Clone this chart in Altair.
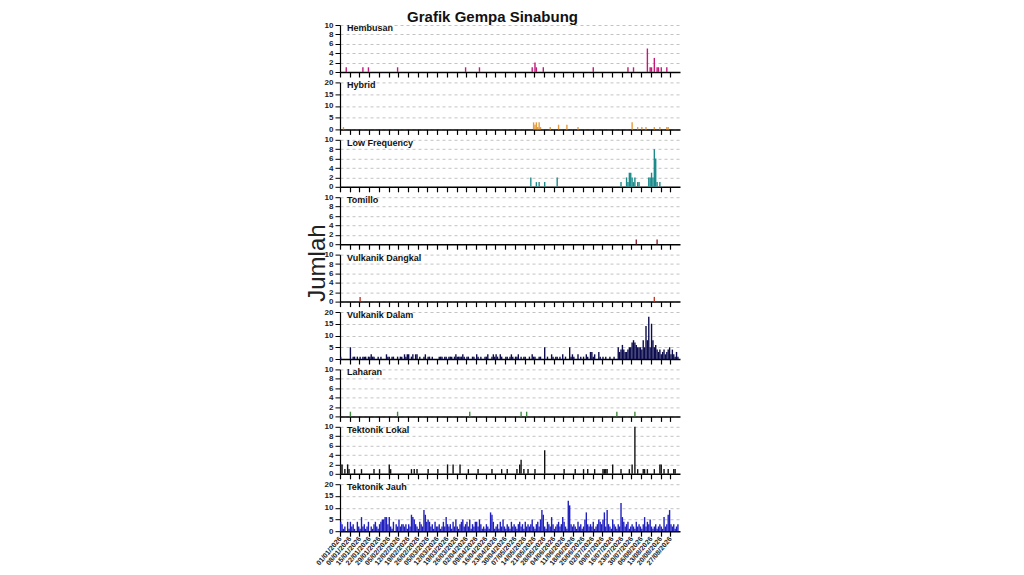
import altair as alt
import pandas as pd

N_DAYS = 245

tick_labels = ["01/01/2026", "08/01/2026", "15/01/2026", "22/01/2026", "29/01/2026",
               "05/02/2026", "12/02/2026", "19/02/2026", "26/02/2026", "05/03/2026",
               "12/03/2026", "19/03/2026", "26/03/2026", "02/04/2026", "09/04/2026",
               "16/04/2026", "23/04/2026", "30/04/2026", "07/05/2026", "14/05/2026",
               "21/05/2026", "28/05/2026", "04/06/2026", "11/06/2026", "18/06/2026",
               "25/06/2026", "02/07/2026", "09/07/2026", "16/07/2026", "23/07/2026",
               "30/07/2026", "06/08/2026", "13/08/2026", "20/08/2026", "27/08/2026"]
tick_days = [7 * i for i in range(len(tick_labels))]

# sparse series: day index (0 = 01/01) and count
hembusan_days = [4, 16, 20, 41, 90, 100, 138, 140, 141, 146, 182, 207, 211, 221, 223, 224, 226, 228, 229, 231, 235]
hembusan_vals = [1, 1, 1, 1, 1, 1, 1, 2, 1, 1, 1, 1, 1, 5, 1, 1, 3, 1, 1, 1, 1]

hybrid_days = [2, 139, 140, 141, 142, 143, 144, 151, 157, 163, 171, 210, 214, 217, 220, 226, 230, 235, 236]
hybrid_vals = [1, 3, 2, 3, 1, 3, 1, 1, 2, 2, 1, 3, 1, 1, 1, 1, 1, 1, 1]

lowfreq_days = [137, 141, 143, 147, 156, 202, 206, 207, 208, 209, 210, 211, 212, 214, 215, 222, 223, 224, 225, 226, 227, 228, 230]
lowfreq_vals = [2, 1, 1, 1, 2, 1, 2, 1, 3, 3, 2, 1, 2, 1, 1, 2, 2, 3, 2, 8, 6, 1, 1]

tomillo_days = [213, 228]
tomillo_vals = [1, 1]

vdangkal_days = [14, 226]
vdangkal_vals = [1, 1]

laharan_days = [7, 41, 93, 130, 134, 199, 212]
laharan_vals = [1, 1, 1, 1, 1, 1, 1]

tlokal_days = [0, 1, 3, 5, 6, 10, 15, 24, 28, 35, 36, 51, 53, 55, 63, 70, 77, 81, 86, 92, 99, 109, 116, 120,
               127, 129, 130, 132, 135, 140, 147, 161, 169, 175, 178, 183, 189, 190, 191, 192, 196, 202,
               208, 210, 212, 214, 218, 219, 221, 226, 230, 231, 233, 236, 240, 241]
tlokal_vals = [2, 2, 1, 2, 1, 1, 1, 1, 1, 2, 1, 1, 1, 1, 1, 1, 2, 2, 2, 1, 1, 1, 1, 1,
               1, 2, 3, 1, 1, 1, 5, 1, 1, 1, 1, 1, 1, 1, 1, 1, 2, 1,
               1, 2, 10, 1, 1, 1, 1, 1, 2, 2, 1, 1, 1, 1]

# dense series: one value per day from 01/01
vdalam_vals = [1, 0, 0, 0, 0, 0, 0,
               5, 0, 1, 1, 0, 1, 0,
               1, 0, 1, 1, 1, 0, 1,
               1, 2, 1, 1, 0, 0, 1,
               0, 1, 0, 0, 0, 2, 1,
               1, 0, 1, 1, 0, 0, 1,
               0, 1, 1, 0, 2, 1, 2,
               2, 0, 1, 2, 0, 2, 2,
               0, 1, 0, 0, 1, 2, 0,
               1, 1, 0, 1, 0, 0, 0,
               0, 1, 1, 1, 0, 1, 1,
               0, 1, 1, 1, 0, 1, 2,
               1, 1, 1, 1, 2, 1, 0,
               1, 1, 0, 0, 1, 1, 0,
               2, 1, 0, 1, 0, 0, 1,
               1, 2, 0, 0, 1, 2, 1,
               2, 1, 0, 2, 1, 0, 0,
               1, 1, 0, 1, 2, 1, 0,
               1, 1, 2, 0, 1, 0, 1,
               1, 0, 0, 1, 0, 2, 1,
               1, 0, 0, 1, 1, 0, 0,
               5, 0, 1, 0, 0, 2, 1,
               0, 1, 1, 0, 1, 0, 2,
               0, 1, 0, 0, 5, 1, 2,
               1, 0, 0, 2, 0, 1, 0,
               1, 0, 2, 1, 0, 3, 3,
               1, 2, 0, 0, 3, 1, 0,
               1, 0, 1, 0, 0, 1, 0,
               0, 1, 0, 0, 5, 3, 4,
               6, 4, 3, 3, 4, 5, 5,
               7, 8, 7, 6, 5, 5, 5,
               4, 8, 5, 14, 8, 18, 5,
               15, 8, 5, 6, 4, 3, 4,
               2, 3, 4, 2, 3, 4, 5,
               2, 4, 2, 1, 3, 1]

tjauh_vals = [4, 3, 1, 2, 0, 4, 1,
              4, 2, 3, 1, 0, 4, 2,
              1, 6, 2, 3, 1, 2, 4,
              0, 2, 1, 3, 4, 2, 1,
              3, 4, 5, 5, 6, 6, 3,
              6, 2, 1, 4, 0, 3, 2,
              5, 2, 3, 3, 2, 3, 1,
              3, 2, 7, 6, 5, 3, 2,
              1, 4, 3, 2, 9, 7, 4,
              5, 4, 2, 3, 1, 4, 2,
              2, 3, 1, 2, 4, 2, 6,
              3, 2, 3, 1, 4, 2, 5,
              2, 1, 3, 4, 5, 2, 3,
              4, 2, 5, 1, 3, 2, 4,
              4, 2, 5, 3, 1, 2, 1,
              3, 2, 1, 8, 7, 4, 1,
              2, 3, 1, 4, 2, 5, 2,
              1, 3, 2, 1, 4, 2, 3,
              2, 1, 3, 4, 2, 3, 1,
              4, 2, 3, 2, 3, 5, 2,
              1, 3, 4, 2, 5, 9, 7,
              2, 1, 4, 3, 2, 6, 3,
              1, 2, 3, 4, 2, 3, 6,
              4, 2, 1, 13, 11, 3, 2,
              3, 2, 1, 4, 2, 3, 1,
              2, 5, 8, 3, 2, 3, 2,
              4, 1, 2, 3, 5, 4, 3,
              5, 8, 2, 9, 3, 2, 1,
              5, 3, 2, 1, 3, 2, 12,
              6, 4, 2, 3, 4, 1, 2,
              3, 2, 1, 4, 2, 3, 2,
              1, 3, 6, 2, 4, 3, 5,
              2, 1, 2, 3, 1, 2, 3,
              2, 1, 6, 2, 3, 7, 9,
              3, 2, 3, 1, 2, 3]

panel_names = ["Hembusan", "Hybrid", "Low Frequency", "Tomillo", "Vulkanik Dangkal",
               "Vulkanik Dalam", "Laharan", "Tektonik Lokal", "Tektonik Jauh"]
panel_colors = ["#c2187a", "#e69a3a", "#1a8a8a", "#8b1a2a", "#c0392b",
                "#0b0b4d", "#3d8b3d", "#111111", "#1f1fbf"]
panel_ymax = [10, 20, 10, 10, 10, 20, 10, 10, 20]
panel_data = [
    (hembusan_days, hembusan_vals),
    (hybrid_days, hybrid_vals),
    (lowfreq_days, lowfreq_vals),
    (tomillo_days, tomillo_vals),
    (vdangkal_days, vdangkal_vals),
    (list(range(len(vdalam_vals))), vdalam_vals),
    (laharan_days, laharan_vals),
    (tlokal_days, tlokal_vals),
    (list(range(len(tjauh_vals))), tjauh_vals),
]

label_expr = "[" + ",".join("'%s'" % s for s in tick_labels) + "][round(datum.value / 7)]"

PANEL_W = 340
PANEL_H = 47

charts = []
for i, name in enumerate(panel_names):
    days, vals = panel_data[i]
    df = pd.DataFrame({"day": days, "count": vals})
    df["day_end"] = df["day"] + 1
    df["base"] = 0
    ymax = panel_ymax[i]
    yvals = [0, 2, 4, 6, 8, 10] if ymax == 10 else [0, 5, 10, 15, 20]
    last = i == len(panel_names) - 1
    xaxis = alt.Axis(values=tick_days, labels=last, labelExpr=label_expr, labelAngle=310,
                     labelFontSize=7, labelFontWeight="bold", labelColor="#222", labelPadding=1,
                     labelAlign="right", labelBaseline="middle", labelOverlap=False,
                     ticks=True, tickSize=5, tickColor="#000", tickWidth=1.2,
                     domainColor="#000", domainWidth=1.5, grid=False, title=None)
    yaxis = alt.Axis(values=yvals, labelFontSize=8, labelFontWeight="bold", labelColor="#222",
                     labelOverlap=False, labelFlush=False,
                     tickSize=5, tickColor="#000", domainColor="#000", domainWidth=1.2,
                     grid=True, gridDash=[3, 3], gridColor="#9a9a9a", gridWidth=0.6,
                     labelPadding=2,
                     title="Jumlah" if name == "Vulkanik Dangkal" else None,
                     titleFontSize=24, titleFontWeight="normal", titleColor="#222",
                     titlePadding=-5, titleY=8, titleFont="Liberation Sans")
    bars = alt.Chart(df).mark_bar(color=panel_colors[i], stroke=None).encode(
        x=alt.X("day:Q", scale=alt.Scale(domain=[0, N_DAYS], nice=False, zero=False), axis=xaxis),
        x2="day_end:Q",
        y=alt.Y("count:Q", scale=alt.Scale(domain=[0, ymax], nice=False), axis=yaxis),
        y2="base:Q",
    )
    label = alt.Chart(pd.DataFrame({"t": [name]})).mark_text(
        align="left", baseline="top", fontSize=9, fontWeight="bold", color="#111",
        font="Liberation Sans"
    ).encode(text="t:N", x=alt.value(7), y=alt.value(-1))
    charts.append(alt.layer(bars, label).properties(width=PANEL_W, height=PANEL_H))

chart = alt.vconcat(*charts, spacing=10.4, bounds="flush").properties(
    title=alt.TitleParams("Grafik Gempa Sinabung", fontSize=15, fontWeight="bold",
                          font="Liberation Sans", color="#111", anchor="middle", offset=-4),
    padding={"left": 297, "top": 2, "right": 5, "bottom": 0},
).configure_view(stroke=None).configure_axis(labelFont="Liberation Sans")

chart.save("out.html", embed_options={"renderer": "svg", "actions": False})
